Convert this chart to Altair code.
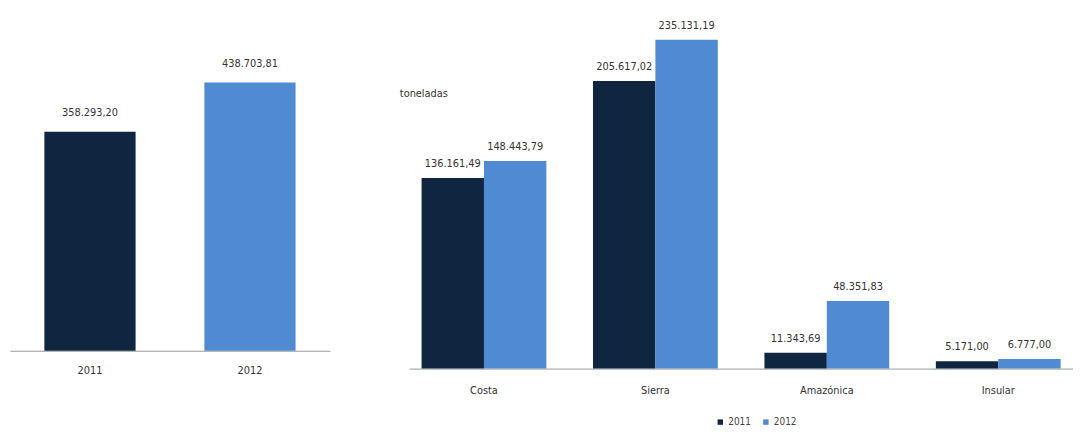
import altair as alt
import pandas as pd

years = ["2011", "2012"]
totals = [358293.20, 438703.81]

regions = ["Costa", "Sierra", "Amazónica", "Insular"]
vals_2011 = [136161.49, 205617.02, 11343.69, 5171.00]
vals_2012 = [148443.79, 235131.19, 48351.83, 6777.00]

colors = ["#0f2540", "#4f8ad2"]
FONT = "Liberation Sans Narrow, DejaVu Sans Condensed, sans-serif"


def es(v):
    s = f"{v:,.2f}"
    return s.replace(",", "X").replace(".", ",").replace("X", ".")


left_df = pd.DataFrame({"year": years, "value": totals,
                        "label": [es(v) for v in totals]})

rows = []
for r, a, b in zip(regions, vals_2011, vals_2012):
    rows.append({"region": r, "year": "2011", "value": a, "label": es(a)})
    rows.append({"region": r, "year": "2012", "value": b, "label": es(b)})
right_df = pd.DataFrame(rows)

color = alt.Color("year:N", scale=alt.Scale(domain=years, range=colors),
                  legend=alt.Legend(title=None, orient="none", direction="horizontal",
                                    legendX=712, legendY=402, symbolType="square",
                                    symbolSize=30, symbolStrokeWidth=0,
                                    labelFontSize=10, labelFont=FONT, labelColor="#444",
                                    labelOffset=3, columnPadding=10))

lx = alt.X("year:N", sort=years,
           scale=alt.Scale(paddingInner=0.43, paddingOuter=0.215),
           axis=alt.Axis(title=None, labelAngle=0, ticks=False, domainColor="#9a9a9a",
                         labelFont=FONT, labelFontSize=11, labelColor="#333",
                         labelPadding=14))
ly = alt.Y("value:Q", scale=alt.Scale(domain=[0, 543000], nice=False), axis=None)

left_bars = alt.Chart(left_df).mark_bar().encode(x=lx, y=ly, color=color)
left_text = alt.Chart(left_df).mark_text(baseline="bottom", dy=-14, font=FONT,
                                         fontSize=11, color="#333").encode(
    x=lx, y=ly, text="label:N")
left = alt.layer(left_bars, left_text).properties(width=323, height=335)

rx = alt.X("region:N", sort=regions,
           scale=alt.Scale(paddingInner=0.272, paddingOuter=0.072),
           axis=alt.Axis(title=None, labelAngle=0, ticks=False, domainColor="#9a9a9a",
                         labelFont=FONT, labelFontSize=11, labelColor="#333",
                         labelPadding=16))
ry = alt.Y("value:Q", scale=alt.Scale(domain=[0, 250000], nice=False),
           axis=alt.Axis(title="toneladas", labels=False, ticks=False, domain=False,
                         grid=False, titleAngle=0, titleX=-10, titleY=75,
                         titleAlign="left", titleBaseline="middle",
                         titleFont=FONT, titleFontSize=11, titleFontWeight="normal",
                         titleColor="#333"))
rxo = alt.XOffset("year:N", sort=years, scale=alt.Scale(paddingInner=0, paddingOuter=0))

right_bars = alt.Chart(right_df).mark_bar().encode(x=rx, xOffset=rxo, y=ry, color=color)
right_text = alt.Chart(right_df).mark_text(baseline="bottom", dy=-9, font=FONT,
                                           fontSize=11, color="#333").encode(
    x=rx, xOffset=rxo, y=ry, text="label:N")
right = alt.layer(right_bars, right_text).properties(width=670, height=353)

chart = alt.hconcat(left, right, spacing=70).properties(
    padding={"left": 2, "top": 9, "right": 0, "bottom": 0}
).configure(background="white").configure_view(strokeWidth=0, stroke="transparent")

chart.save("out.html", embed_options={"renderer": "svg", "actions": False})
